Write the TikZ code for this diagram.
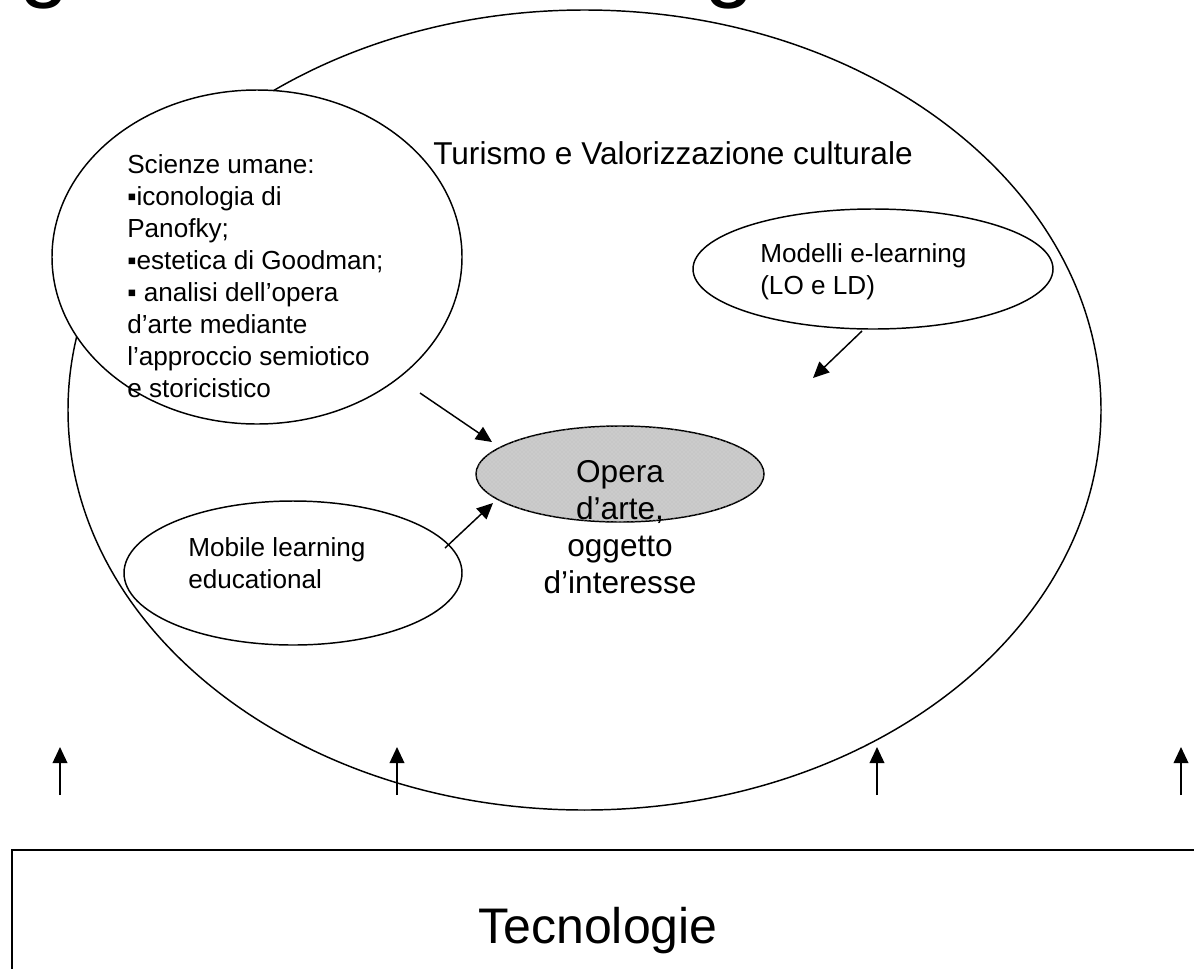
\documentclass[tikz,border=0pt]{standalone}
\usepackage{fontspec}
\setmainfont{Liberation Sans}
\usetikzlibrary{arrows.meta,patterns,shapes.geometric}
\newcommand{\mylines}[2]{\begin{tabular}[t]{@{}#1@{}}#2\end{tabular}}
\begin{document}
\begin{tikzpicture}[x=0.75pt,y=-0.75pt,
  oval/.style={ellipse,draw,line width=1.1pt,fill=white,inner sep=0pt},
  arr/.style={line width=1.1pt,-{Triangle[length=12pt,width=11pt]}},
  txt/.style={inner sep=0pt,anchor=base west},
  smalltxt/.style={txt,font=\fontsize{19.6}{24}\selectfont},
  bigtxt/.style={inner sep=0pt,font=\fontsize{23.7}{27.75}\selectfont},
]
\useasboundingbox (0,0) rectangle (1194,968);
\clip (0,0) rectangle (1194,968);
% cut-off title glyphs
\node[txt,font=\fontsize{67.5}{70}\selectfont] (g1) at (19,-10) {g};
\node[txt,font=\fontsize{67.5}{70}\selectfont] (g2) at (704,-10) {g};
% big ellipse
\node[oval,fill=none,minimum width=774.75pt,minimum height=600pt] (big) at (584.5,410) {};
\node[bigtxt,anchor=base west] (tur) at (433,164) {Turismo e Valorizzazione culturale};
% Scienze
\node[oval,minimum width=307.5pt,minimum height=250.5pt] (sci) at (257,257) {};
\node[smalltxt] (scit) at (127,173) {\mylines{l}{Scienze umane:\\ ▪iconologia di\\ Panofky;\\ ▪estetica di Goodman;\\ ▪ analisi dell’opera\\ d’arte mediante\\ l’approccio semiotico\\ e storicistico}};
% Modelli
\node[oval,minimum width=270pt,minimum height=90pt] (mod) at (873,269) {};
\node[smalltxt] (modt) at (760,262) {\mylines{l}{Modelli e-learning\\ (LO e LD)}};
% Mobile
\node[oval,minimum width=253.5pt,minimum height=108pt] (mob) at (293,573) {};
\node[smalltxt] (mobt) at (188,556) {\mylines{l}{Mobile learning\\ educational}};
% Opera
\node[oval,fill=black!22,postaction={pattern=crosshatch dots,pattern color=white!85!black},minimum width=216pt,minimum height=72pt] (op) at (620,474) {};
\node[bigtxt,anchor=base] (opt) at (620,482) {\mylines{c}{Opera\\ d’arte,\\ oggetto\\ d’interesse}};
% arrows
\coordinate (a1s) at (420,393); \coordinate (a1e) at (492,442);
\coordinate (a2s) at (445,548); \coordinate (a2e) at (493,503);
\coordinate (a3s) at (862,331); \coordinate (a3e) at (813,378);
\draw[arr] (a1s) -- (a1e);
\draw[arr] (a2s) -- (a2e);
\draw[arr] (a3s) -- (a3e);
% bottom box
\coordinate (bx1) at (12,850); \coordinate (bx2) at (1215,990);
\draw[line width=1.5pt] (bx1) rectangle (bx2);
\node[inner sep=0pt,anchor=base,font=\fontsize{37.5}{40}\selectfont] (tec) at (598,943) {Tecnologie};
% vertical arrows
\foreach \i/\x in {1/60,2/397,3/877,4/1181}{
  \coordinate (v\i s) at (\x,795); \coordinate (v\i e) at (\x,747);
  \draw[arr] (v\i s) -- (v\i e);
}
\end{tikzpicture}
\end{document}
